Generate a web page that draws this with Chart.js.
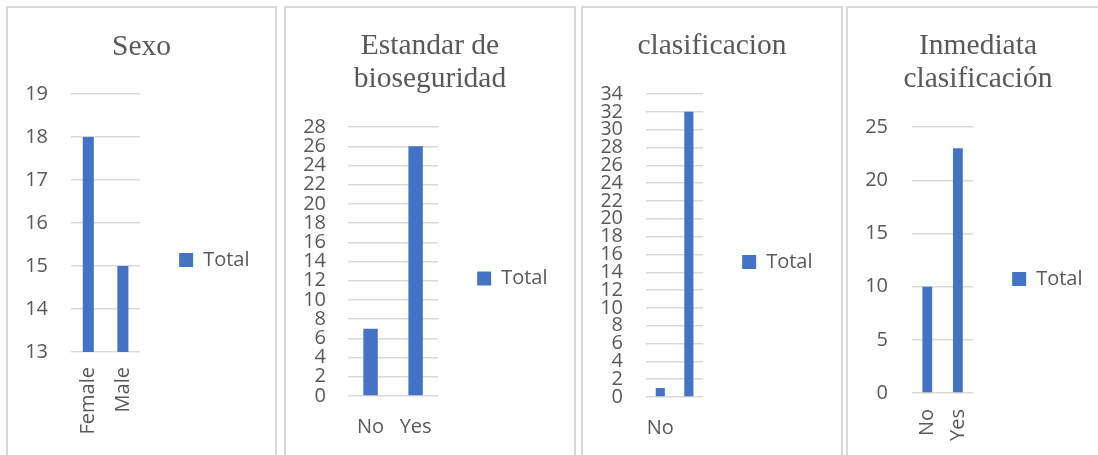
<!DOCTYPE html>
<html>
<head>
<meta charset="utf-8">
<script src="https://cdn.jsdelivr.net/npm/chart.js@4/dist/chart.umd.min.js"></script>
<style>
  html, body { margin: 0; padding: 0; background: #fff; }
  body { width: 1098px; height: 455px; overflow: hidden; position: relative; }
  .panel {
    position: absolute;
    top: 6px;
    height: 460px;
    border: 2px solid #d9d9d9;
    border-bottom: none;
    overflow: hidden;
    background: #fff;
  }
  .panel canvas { display: block; }
</style>
</head>
<body>
<div class="panel" style="left:6px;width:267px"><canvas id="sexo"></canvas></div>
<div class="panel" style="left:284px;width:288px"><canvas id="bio"></canvas></div>
<div class="panel" style="left:581px;width:258px"><canvas id="clas"></canvas></div>
<div class="panel" style="left:846px;width:254px"><canvas id="inm"></canvas></div>

<script>
// Data
const sexoTitle = "Sexo";
const sexoLabels = ["Female", "Male"];
const sexoTotals = [18, 15];
const sexoTicks = [13, 19, 1]; // min, max, step

const bioTitle = ["Estandar de", "bioseguridad"];
const bioLabels = ["No", "Yes"];
const bioTotals = [7, 26];
const bioTicks = [0, 28, 2];

const clasTitle = "clasificacion";
const clasLabels = ["No", ""]; // second label is not shown in the original
const clasTotals = [1, 32];
const clasTicks = [0, 34, 2];

const inmTitle = ["Inmediata", "clasificación"];
const inmLabels = ["No", "Yes"];
const inmTotals = [10, 23];
const inmTicks = [0, 25, 5];

const seriesName = "Total";

// Styles
const BLUE = "#4472C4";
const TEXT = "#595959";
const GRID = "#d9d9d9";
const tickFont = { family: "Open Sans", size: 20 };

function barChart(id, o) {
    const canvas = document.getElementById(id);
    canvas.width = o.w;
    canvas.height = o.h;
    return new Chart(canvas, {
        type: "bar",
        data: {
            labels: o.labels,
            datasets: [{
                label: seriesName,
                data: o.values,
                backgroundColor: BLUE,
                categoryPercentage: 1,
                barPercentage: 0.32
            }]
        },
        options: {
            responsive: false,
            animation: false,
            // left padding keeps the title centred on the whole panel
            layout: { padding: { top: 0, left: o.padLeft, bottom: 0, right: o.padRight } },
            plugins: {
                title: {
                    display: true,
                    text: o.title,
                    color: TEXT,
                    font: { family: "Liberation Serif", size: 29.5, weight: "normal", lineHeight: 1.12 },
                    padding: { top: o.titleTop, bottom: o.titleBottom }
                },
                legend: {
                    position: "right",
                    maxWidth: 300, // otherwise capped at a quarter of the canvas
                    labels: {
                        color: TEXT,
                        font: tickFont,
                        boxWidth: 14,
                        boxHeight: 14,
                        padding: 39
                    }
                },
                tooltip: { enabled: false }
            },
            scales: {
                x: {
                    grid: { display: false, drawTicks: false },
                    border: { display: false },
                    ticks: {
                        color: TEXT,
                        font: tickFont,
                        padding: o.xPad,
                        minRotation: o.rot,
                        maxRotation: o.rot,
                        autoSkip: false
                    },
                    afterFit: s => { s.height = o.xHeight; }
                },
                y: {
                    min: o.ticks[0],
                    max: o.ticks[1],
                    grid: { color: GRID, lineWidth: 1.5, drawTicks: false },
                    border: { display: false },
                    ticks: {
                        stepSize: o.ticks[2],
                        autoSkip: false,
                        padding: o.yPad,
                        color: TEXT,
                        font: tickFont
                    },
                    afterFit: s => { s.width = o.yWidth; }
                }
            }
        }
    });
}

barChart("sexo", {
    title: sexoTitle, labels: sexoLabels, values: sexoTotals, ticks: sexoTicks,
    w: 267, h: 504, padLeft: 15.5, padRight: 15.5, titleTop: 23, titleBottom: 30,
    yWidth: 47.5, yPad: 23, xHeight: 160, xPad: 15, rot: 90
});

barChart("bio", {
    title: bioTitle, labels: bioLabels, values: bioTotals, ticks: bioTicks,
    w: 288, h: 541, padLeft: 16.5, padRight: 16.5, titleTop: 22, titleBottom: 31,
    yWidth: 45.5, yPad: 22, xHeight: 153, xPad: 19, rot: 0
});

barChart("clas", {
    title: clasTitle, labels: clasLabels, values: clasTotals, ticks: clasTicks,
    w: 258, h: 508, padLeft: 18.5, padRight: 18.5, titleTop: 22, titleBottom: 31,
    yWidth: 44.5, yPad: 23, xHeight: 119, xPad: 19, rot: 0
});

barChart("inm", {
    title: inmTitle, labels: inmLabels, values: inmTotals, ticks: inmTicks,
    w: 254, h: 542, padLeft: 15.5, padRight: 9.5, titleTop: 22, titleBottom: 31,
    yWidth: 48.5, yPad: 24, xHeight: 157, xPad: 16, rot: 90
});
</script>
</body>
</html>
